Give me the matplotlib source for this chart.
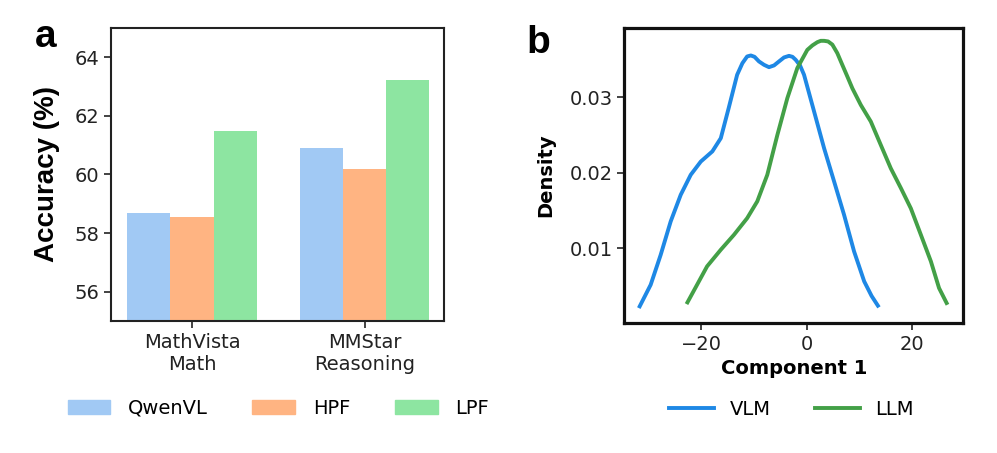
'''
Bar chart of accuracies and KDE of first component
'''
import matplotlib
matplotlib.use('Agg')
import matplotlib.pyplot as plt
from matplotlib.patches import Patch
from matplotlib.lines   import Line2D

# ----------------------------
benchmarks = ['MathVista\nMath', 'MMStar\nReasoning']
models     = ['QwenVL', 'HPF', 'LPF']
accuracy   = {
    'QwenVL' : [58.70, 60.92],
    'HPF'    : [58.55, 60.20],
    'LPF'    : [61.50, 63.22],
}
bar_colors = ['#a1c9f4', '#ffb482', '#8de5a1']

vlm_x = [-31.85, -29.6, -27.7, -25.8, -23.9, -22.0, -20.1, -17.9, -16.3, -14.8, -13.2, -12.2, -11.3,
         -10.6, -9.9, -9.06, -8.1, -7.16, -6.2, -5.26, -4.3, -3.36, -2.7, -2.09, -1.27, -0.51, 1.39,
         3.29, 5.19, 7.08, 8.98, 10.9, 12.3, 13.7]
vlm_y = [0.00209, 0.00518, 0.00915, 0.01358, 0.0171, 0.01975, 0.0215, 0.02285, 0.0246, 0.0286, 0.0330,
         0.03454, 0.03543, 0.03556, 0.03538, 0.03477, 0.03432, 0.03401, 0.03424, 0.03477, 0.0353,
         0.03551, 0.03538, 0.03498, 0.03424, 0.0330, 0.02815, 0.02328, 0.01887, 0.01445, 0.0096,
         0.00563, 0.0037, 0.00219]

llm_x = [-22.8, -20.8, -18.9, -16.3, -13.8, -11.3, -9.38, -7.48, -5.58, -3.68, -1.78, 0.11, 1.07, 2.01,
         2.66, 3.29, 4.05, 4.86, 5.8, 6.76, 7.7, 8.66, 10.26, 12.16, 14.05, 15.95, 17.85, 19.75,
         21.65, 23.55, 25.1, 26.7]
llm_y = [0.00262, 0.00518, 0.00762, 0.00982, 0.0118, 0.0140, 0.01623, 0.01975, 0.0250, 0.0299, 0.0339,
         0.0363, 0.03689, 0.03732, 0.0375, 0.0375, 0.03742, 0.0370, 0.03587, 0.0343, 0.03278, 0.0312,
         0.0290, 0.0268, 0.0237, 0.0206, 0.0180, 0.0153, 0.0118, 0.00828, 0.00474, 0.00253]

kde_labels = ['VLM', 'LLM']
kde_colors = ['#1e88e5', '#43a047']
# ----------------------------
def _plot_bars(ax) -> None:
    width = 0.25
    for i_model, model in enumerate(models):
        xpos = [i_bench + (i_model - 1) * width for i_bench in range(len(benchmarks))]
        ax.bar(xpos, accuracy[model], width=width, color=bar_colors[i_model], label=model)

    ax.set_xlim(-0.47, 1.46)
    ax.set_ylim(55, 65)
    ax.set_yticks([56, 58, 60, 62, 64])
    ax.set_xticks(range(len(benchmarks)))
    ax.set_xticklabels(benchmarks)
    ax.set_ylabel('Accuracy (%)', fontsize=20, fontweight='bold', family='Liberation Sans', labelpad=10)
    for spine in ax.spines.values():
        spine.set_linewidth(1.5)
        spine.set_color('#222222')
# ----------------------------
def _plot_kde(ax) -> None:
    ax.plot(vlm_x, vlm_y, color=kde_colors[0], linewidth=2.8, solid_capstyle='butt', solid_joinstyle='round')
    ax.plot(llm_x, llm_y, color=kde_colors[1], linewidth=2.8, solid_capstyle='butt', solid_joinstyle='round')

    ax.set_xlim(-34.6, 29.7)
    ax.set_ylim(0.00015, 0.0392)
    ax.set_xticks([-20, 0, 20])
    ax.set_yticks([0.01, 0.02, 0.03])
    ax.set_xlabel('Component 1', fontsize=14, fontweight='bold')
    ax.set_ylabel('Density'    , fontsize=14, fontweight='bold', labelpad=10)
    for spine in ax.spines.values():
        spine.set_linewidth(2.3)
        spine.set_color('#111111')
# ----------------------------
def main():
    plt.rcParams['font.size'] = 14
    fig = plt.figure(figsize=(9.97, 4.53), dpi=100)

    ax_a = fig.add_axes([0.1113, 0.2914, 0.334, 0.6468])
    ax_b = fig.add_axes([0.6262, 0.2876, 0.340, 0.6506])

    for ax in [ax_a, ax_b]:
        ax.tick_params(labelsize=14, length=5, width=1.2, colors='#222222')

    _plot_bars(ax_a)
    _plot_kde(ax_b)

    bar_handles = [Patch(color=col, label=lab) for col, lab in zip(bar_colors, models)]
    fig.legend(handles=bar_handles, loc='center', bbox_to_anchor=(0.279, 0.099), ncol=3,
               frameon=False, fontsize=14, handlelength=2.2, handletextpad=0.9, columnspacing=2.3)

    kde_handles = [Line2D([], [], color=col, linewidth=2.8, label=lab) for col, lab in zip(kde_colors, kde_labels)]
    fig.legend(handles=kde_handles, loc='center', bbox_to_anchor=(0.794, 0.097), ncol=2,
               frameon=False, fontsize=14, handlelength=2.3, handletextpad=0.8, columnspacing=2.3)

    fig.text(0.035, 1 - 47 / 453, 'a', fontsize=28, fontweight='bold', family='Liberation Sans', va='baseline')
    fig.text(0.528, 1 - 53 / 453, 'b', fontsize=28, fontweight='bold', family='Liberation Sans', va='baseline')

    fig.savefig('out.png', dpi=100)
    plt.close(fig)
# ----------------------------
if __name__ == '__main__':
    main()
